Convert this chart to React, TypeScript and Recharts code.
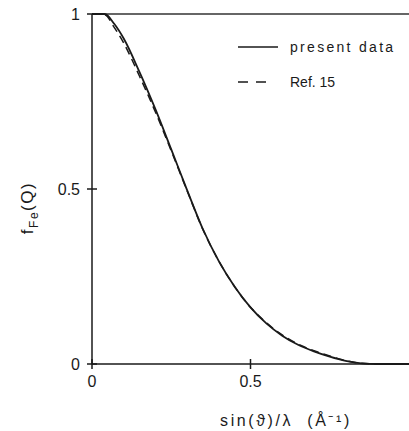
import {
  Legend,
  Line,
  LineChart,
  ReferenceLine,
  XAxis,
  YAxis,
} from "recharts";

// sin(theta)/lambda in 1/Angstrom
const qValues = [0, 0.04, 0.07, 0.1, 0.15, 0.2, 0.25, 0.3, 0.35, 0.4, 0.45, 0.5, 0.55, 0.6, 0.65, 0.7, 0.75, 0.8, 0.85, 0.9, 1.0];
const presentData = [1, 1, 0.972, 0.93, 0.834, 0.728, 0.613, 0.497, 0.385, 0.294, 0.221, 0.162, 0.116, 0.081, 0.055, 0.036, 0.021, 0.009, 0.002, 0, 0];
const ref15Data = [1, 0.998, 0.962, 0.917, 0.822, 0.72, 0.609, 0.495, 0.384, 0.294, 0.221, 0.162, 0.118, 0.083, 0.057, 0.038, 0.023, 0.01, 0.002, 0, 0];

const xTicks = [0, 0.5];
const yTicks = [0, 0.5, 1];
const xTickLabels = ["0", "0.5"];
const yTickLabels = ["0", "0.5", "1"];

const data = qValues.map((q, i) => ({ q, present: presentData[i], ref15: ref15Data[i] }));

const FONT = "'Liberation Sans', Arial, sans-serif";
const INK = "#1a1a1a";

function XTick({ x, y, payload }: any) {
  const i = xTicks.indexOf(payload.value);
  return (
    <g>
      <line x1={x} x2={x} y1={y - 5} y2={y + 5} stroke={INK} strokeWidth={1.5} />
      <text x={x} y={y + 23} textAnchor="middle" fontSize={16} fontFamily={FONT} fill={INK}>
        {xTickLabels[i]}
      </text>
    </g>
  );
}

function YTick({ x, y, payload }: any) {
  const i = yTicks.indexOf(payload.value);
  return (
    <g>
      <line x1={x - 5} x2={x + 5} y1={y} y2={y} stroke={INK} strokeWidth={1.5} />
      <text x={x - 12} y={y + 6} textAnchor="end" fontSize={16} fontFamily={FONT} fill={INK}>
        {yTickLabels[i]}
      </text>
    </g>
  );
}

function LegendBox() {
  return (
    <svg width={170} height={60} style={{ overflow: "visible" }}>
      <line x1={0} x2={40} y1={9} y2={9} stroke={INK} strokeWidth={1.5} />
      <text x={52} y={14} fontSize={14} fontFamily={FONT} fill={INK} letterSpacing={2.3}>
        present data
      </text>
      <line x1={0} x2={30} y1={44} y2={44} stroke={INK} strokeWidth={1.5} strokeDasharray="10 8" />
      <text x={52} y={49} fontSize={14} fontFamily={FONT} fill={INK}>
        Ref. 15
      </text>
    </svg>
  );
}

export default function App() {
  return (
    <div style={{ position: "absolute", left: 0, top: 0, background: "#fff" }}>
      <LineChart width={409} height={431} data={data} margin={{ top: 14, right: 0, left: 0, bottom: 0 }}>
        <XAxis
          dataKey="q"
          type="number"
          domain={[0, 1]}
          ticks={xTicks}
          tick={<XTick />}
          tickLine={false}
          tickSize={0}
          tickMargin={0}
          height={67}
          axisLine={{ stroke: INK, strokeWidth: 1.5 }}
          label={{
            content: () => (
              <text x={286} y={426} textAnchor="middle" fontSize={16} fontFamily={FONT} fill={INK} letterSpacing={2.6}>
                sin(ϑ)/λ{"\u00a0\u00a0"}(Å⁻¹)
              </text>
            ),
          }}
        />
        <YAxis
          type="number"
          domain={[0, 1]}
          ticks={yTicks}
          tick={<YTick />}
          tickLine={false}
          tickSize={0}
          tickMargin={0}
          width={92}
          axisLine={{ stroke: INK, strokeWidth: 1.5 }}
          label={{
            content: () => (
              <text x={0} y={0} transform="translate(33 208) rotate(-90)" textAnchor="middle" fontSize={17} fontFamily={FONT} fill={INK} letterSpacing={1.5}>
                f
                <tspan fontSize={12} dy={5}>Fe</tspan>
                <tspan dy={-5}>(Q)</tspan>
              </text>
            ),
          }}
        />
        <ReferenceLine y={1} stroke="#333" strokeWidth={1.5} />
        <Legend
          verticalAlign="middle"
          align="center"
          content={() => <LegendBox />}
          wrapperStyle={{ position: "absolute", left: 238, top: 38, width: 170 }}
        />
        <Line
          type="monotone"
          dataKey="present"
          stroke={INK}
          strokeWidth={1.8}
          dot={false}
          isAnimationActive={false}
        />
        <Line
          type="monotone"
          dataKey="ref15"
          stroke={INK}
          strokeWidth={1.5}
          strokeDasharray="8 5"
          dot={false}
          isAnimationActive={false}
        />
      </LineChart>
    </div>
  );
}
